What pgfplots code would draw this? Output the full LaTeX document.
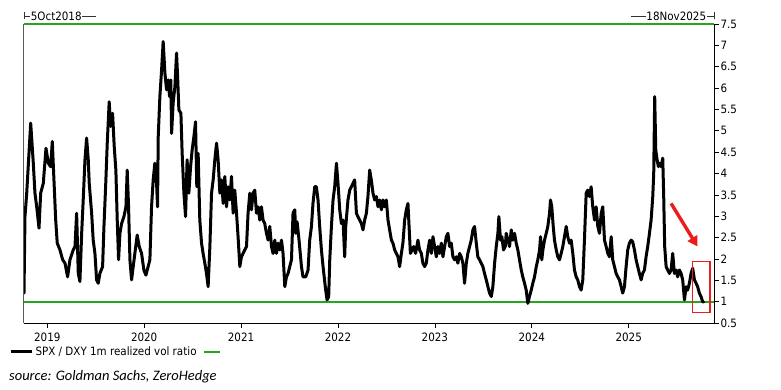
\documentclass[border=0pt]{standalone}
\usepackage{fontspec}
\setmainfont{DejaVu Sans Condensed}
\newfontfamily\srcfont{Carlito}
\usepackage{pgfplots}
\usepackage{pgfplotstable}
\pgfplotsset{compat=1.18}
\usetikzlibrary{arrows.meta}
\definecolor{refgreen}{RGB}{40,165,30}
\definecolor{refred}{RGB}{235,28,28}
\definecolor{leftgray}{RGB}{90,90,90}

\pgfplotstableread{
x y
2018.760 1.20
2018.770 2.99
2018.788 3.54
2018.829 5.18
2018.856 4.24
2018.873 3.54
2018.891 3.22
2018.915 2.72
2018.932 3.54
2018.959 3.77
2018.987 4.59
2019.011 4.24
2019.035 4.16
2019.052 4.75
2019.069 3.85
2019.087 2.91
2019.103 2.37
2019.131 2.21
2019.159 1.98
2019.183 1.90
2019.210 1.58
2019.234 1.98
2019.268 2.21
2019.286 2.29
2019.303 3.07
2019.320 1.66
2019.337 1.47
2019.355 2.60
2019.371 3.38
2019.389 4.32
2019.406 4.83
2019.423 4.32
2019.433 3.77
2019.458 3.07
2019.474 2.44
2019.492 2.13
2019.509 1.51
2019.526 1.43
2019.543 1.66
2019.571 1.82
2019.585 2.76
2019.605 3.85
2019.619 4.71
2019.639 5.68
2019.654 5.10
2019.674 5.41
2019.691 4.63
2019.708 4.08
2019.722 2.91
2019.736 1.98
2019.750 2.60
2019.767 2.83
2019.791 2.99
2019.812 3.22
2019.825 4.08
2019.839 3.22
2019.853 1.98
2019.870 1.51
2019.887 1.82
2019.904 2.13
2019.928 2.56
2019.949 2.29
2019.973 2.13
2019.997 1.74
2020.018 1.62
2020.041 1.82
2020.059 1.98
2020.076 3.22
2020.093 3.85
2020.110 4.24
2020.128 3.77
2020.138 3.22
2020.145 4.86
2020.162 5.80
2020.180 6.43
2020.196 7.09
2020.214 6.35
2020.231 5.96
2020.248 6.19
2020.262 5.80
2020.275 6.19
2020.283 4.94
2020.299 5.65
2020.317 6.03
2020.334 6.82
2020.345 6.27
2020.358 5.49
2020.379 5.41
2020.392 4.47
2020.410 3.54
2020.427 2.99
2020.443 4.32
2020.461 3.54
2020.479 4.16
2020.495 4.55
2020.513 4.86
2020.530 5.21
2020.543 3.69
2020.557 4.47
2020.574 2.91
2020.592 2.37
2020.608 2.13
2020.626 1.90
2020.643 1.66
2020.660 1.35
2020.678 2.29
2020.695 3.54
2020.712 3.85
2020.729 4.32
2020.747 4.71
2020.763 4.32
2020.781 3.54
2020.798 3.85
2020.815 3.30
2020.832 3.93
2020.850 3.22
2020.866 3.69
2020.884 3.38
2020.901 3.93
2020.918 3.07
2020.935 3.61
2020.953 3.07
2020.969 2.52
2020.987 1.82
2021.004 2.05
2021.021 2.13
2021.038 2.21
2021.056 2.29
2021.072 3.07
2021.090 3.54
2021.107 3.15
2021.124 3.54
2021.141 3.61
2021.159 3.07
2021.175 3.22
2021.193 2.91
2021.210 3.22
2021.227 2.91
2021.244 2.83
2021.262 2.60
2021.279 2.44
2021.296 2.76
2021.314 2.29
2021.330 2.13
2021.348 2.44
2021.365 2.13
2021.382 2.37
2021.399 2.21
2021.417 2.44
2021.433 2.13
2021.451 1.35
2021.468 1.58
2021.485 1.66
2021.502 1.82
2021.520 1.98
2021.536 3.07
2021.554 3.15
2021.564 2.60
2021.578 2.87
2021.598 2.44
2021.623 1.82
2021.639 1.58
2021.667 1.58
2021.691 1.74
2021.708 2.44
2021.726 2.76
2021.742 3.30
2021.760 3.69
2021.777 3.69
2021.794 3.38
2021.811 2.76
2021.829 2.21
2021.846 1.82
2021.873 1.27
2021.887 1.04
2021.904 1.12
2021.915 1.98
2021.932 2.76
2021.949 3.38
2021.966 3.69
2021.984 4.24
2022.000 3.77
2022.018 3.15
2022.035 2.83
2022.052 2.91
2022.069 2.05
2022.080 2.76
2022.103 3.38
2022.121 3.61
2022.138 3.69
2022.155 3.77
2022.172 3.85
2022.190 3.07
2022.206 2.99
2022.224 2.91
2022.241 2.83
2022.258 2.68
2022.275 2.91
2022.293 3.07
2022.309 3.46
2022.327 4.08
2022.344 3.85
2022.361 3.54
2022.379 3.38
2022.396 3.46
2022.413 3.22
2022.430 3.38
2022.448 3.15
2022.464 3.38
2022.482 3.22
2022.499 3.38
2022.516 2.91
2022.533 2.68
2022.551 2.44
2022.567 2.37
2022.585 2.21
2022.602 2.13
2022.619 2.05
2022.636 1.82
2022.654 2.13
2022.670 2.37
2022.688 2.91
2022.705 3.15
2022.722 3.30
2022.732 2.83
2022.747 2.13
2022.767 2.21
2022.781 2.29
2022.801 2.13
2022.825 2.44
2022.842 2.21
2022.860 2.13
2022.876 1.90
2022.894 1.82
2022.911 1.90
2022.928 2.21
2022.946 2.44
2022.963 2.13
2022.980 2.52
2022.997 2.29
2023.015 2.05
2023.031 2.29
2023.049 2.13
2023.066 2.37
2023.083 2.05
2023.100 2.29
2023.118 2.52
2023.134 2.60
2023.152 2.29
2023.169 2.37
2023.186 2.05
2023.203 1.98
2023.221 2.05
2023.237 1.90
2023.255 2.13
2023.272 2.05
2023.289 1.90
2023.306 1.43
2023.324 1.90
2023.340 2.13
2023.358 2.29
2023.375 2.44
2023.392 2.68
2023.409 2.76
2023.427 2.37
2023.443 2.05
2023.461 1.98
2023.478 1.90
2023.495 1.82
2023.512 1.66
2023.530 1.51
2023.547 1.35
2023.564 1.20
2023.582 1.12
2023.598 1.35
2023.616 1.90
2023.633 2.29
2023.650 2.60
2023.660 2.99
2023.677 2.44
2023.691 2.52
2023.708 2.21
2023.726 2.29
2023.736 2.60
2023.753 2.44
2023.770 2.29
2023.788 2.68
2023.804 2.44
2023.822 2.60
2023.839 2.37
2023.856 2.21
2023.873 1.98
2023.891 1.74
2023.907 1.58
2023.925 1.43
2023.942 1.27
2023.959 0.96
2023.976 1.12
2023.994 1.27
2024.010 1.43
2024.028 1.58
2024.046 1.82
2024.062 1.98
2024.080 2.21
2024.090 2.52
2024.103 1.98
2024.114 2.21
2024.131 2.44
2024.149 2.60
2024.165 2.76
2024.183 3.07
2024.193 3.38
2024.206 3.22
2024.221 2.76
2024.234 2.44
2024.252 2.21
2024.268 2.05
2024.286 1.98
2024.303 2.13
2024.320 2.29
2024.337 2.52
2024.355 2.76
2024.371 2.52
2024.389 2.37
2024.406 2.44
2024.423 2.13
2024.440 1.74
2024.458 1.58
2024.474 1.51
2024.492 1.35
2024.509 1.27
2024.526 1.51
2024.543 2.44
2024.561 3.54
2024.577 3.61
2024.595 3.46
2024.612 3.69
2024.629 3.22
2024.647 2.91
2024.664 3.22
2024.681 2.76
2024.698 2.60
2024.716 3.07
2024.732 3.22
2024.750 2.44
2024.767 2.29
2024.784 2.13
2024.801 2.05
2024.819 2.52
2024.835 1.98
2024.853 1.82
2024.870 1.66
2024.887 1.58
2024.904 1.51
2024.922 1.35
2024.938 1.20
2024.956 1.35
2024.973 1.82
2024.990 2.21
2025.007 2.37
2025.025 2.44
2025.041 2.40
2025.059 2.21
2025.076 1.98
2025.093 1.82
2025.110 1.66
2025.128 1.51
2025.144 1.66
2025.162 1.74
2025.179 2.05
2025.196 2.29
2025.214 2.60
2025.231 2.91
2025.248 3.46
2025.258 4.01
2025.268 5.80
2025.279 4.55
2025.293 4.32
2025.306 4.16
2025.317 4.24
2025.334 4.16
2025.351 4.36
2025.361 3.46
2025.371 2.29
2025.386 1.82
2025.402 1.74
2025.420 1.66
2025.437 1.74
2025.454 2.13
2025.471 1.66
2025.489 1.74
2025.505 1.58
2025.523 1.74
2025.540 1.66
2025.557 1.51
2025.575 1.04
2025.592 1.35
2025.608 1.27
2025.626 1.43
2025.643 1.66
2025.660 1.78
2025.678 1.51
2025.695 1.43
2025.711 1.35
2025.729 1.20
2025.746 1.12
2025.763 1.00
2025.773 0.99
}\ratiodata

\begin{document}
\begin{tikzpicture}
\begin{axis}[
  scale only axis,
  width=690pt, height=299pt,
  xmin=2018.76, xmax=2025.88,
  ymin=0.5, ymax=7.5,
  axis x line*=bottom,
  axis y line*=right,
  axis line style={black, line width=0.8pt},
  xtick={2019,2020,2021,2022,2023,2024,2025},
  xticklabels={2019,2020,2021,2022,2023,2024,2025},
  ytick={0.5,1,1.5,2,2.5,3,3.5,4,4.5,5,5.5,6,6.5,7,7.5},
  yticklabels={0.5,1,1.5,2,2.5,3,3.5,4,4.5,5,5.5,6,6.5,7,7.5},
  tick align=outside,
  major tick length=5pt,
  tick style={black, line width=0.7pt},
  ticklabel style={font=\fontsize{11.5}{13}\selectfont, text=black},
  yticklabel style={xshift=-2pt},
  xticklabel style={yshift=-1pt},
  /pgf/number format/assume math mode=true,
  legend style={at={(-0.021,-0.072)}, anchor=north west, draw=none, fill=none,
    inner sep=0pt, outer sep=0pt, font=\fontsize{11.5}{13}\selectfont,
    /tikz/every even column/.append style={column sep=4pt}},
  legend columns=2,
  legend cell align=left,
]
\addplot[color=refgreen, line width=1.8pt, forget plot] coordinates {(2018.76,1) (2025.88,1)};
\addplot[color=refgreen, line width=1.6pt, forget plot] coordinates {(2018.76,7.5) (2025.88,7.5)};
\addplot[color=black, line width=3pt, line join=round, line cap=round, forget plot]
  table[x=x, y=y] {\ratiodata};
\addlegendimage{legend image code/.code={\draw[black, line width=3pt] (0pt,0pt) -- (21pt,0pt);}}
\addlegendentry{SPX / DXY 1m realized vol ratio}
\addlegendimage{legend image code/.code={\draw[refgreen, line width=1.8pt] (0pt,0pt) -- (16pt,0pt);}}
\addlegendentry{}
\draw[refred, line width=3.4pt, -{Triangle[length=10pt,width=11pt]}]
  (axis cs:2025.437,3.30) -- (axis cs:2025.71,2.29);
\draw[refred, line width=1.6pt] (axis cs:2025.66,1.94) rectangle (axis cs:2025.84,0.75);
\end{axis}
\draw[leftgray, line width=1pt] (current axis.south west) -- (current axis.north west);
% date range markers
\coordinate (TL) at ([yshift=8pt]current axis.north west);
\draw[black!80, line width=0.7pt] ([yshift=-3.5pt]TL) -- ([yshift=3.5pt]TL);
\draw[black!80, line width=0.7pt] (TL) -- ++(6pt,0) node[anchor=west, inner sep=0.5pt, text=black, font=\fontsize{11.5}{13}\selectfont] (d1) {5Oct2018};
\draw[black!80, line width=0.7pt] (d1.east) -- ++(14pt,0);
\coordinate (TR) at ([yshift=8pt]current axis.north east);
\draw[black!80, line width=0.7pt] ([yshift=-3.5pt]TR) -- ([yshift=3.5pt]TR);
\draw[black!80, line width=0.7pt] (TR) -- ++(-7pt,0) node[anchor=east, inner sep=0.5pt, text=black, font=\fontsize{11.5}{13}\selectfont] (d2) {18Nov2025};
\draw[black!80, line width=0.7pt] (d2.west) -- ++(-15pt,0);
% source
\node[anchor=west, inner sep=0pt, font=\srcfont\itshape\fontsize{14.5}{16}\selectfont]
  at ([xshift=-15pt,yshift=-54pt]current axis.south west) {source: Goldman Sachs, ZeroHedge};
% bounding box
\path ([shift={(-24pt,-67pt)}]current axis.south west) rectangle ([shift={(67pt,24pt)}]current axis.north east);
\end{tikzpicture}
\end{document}
